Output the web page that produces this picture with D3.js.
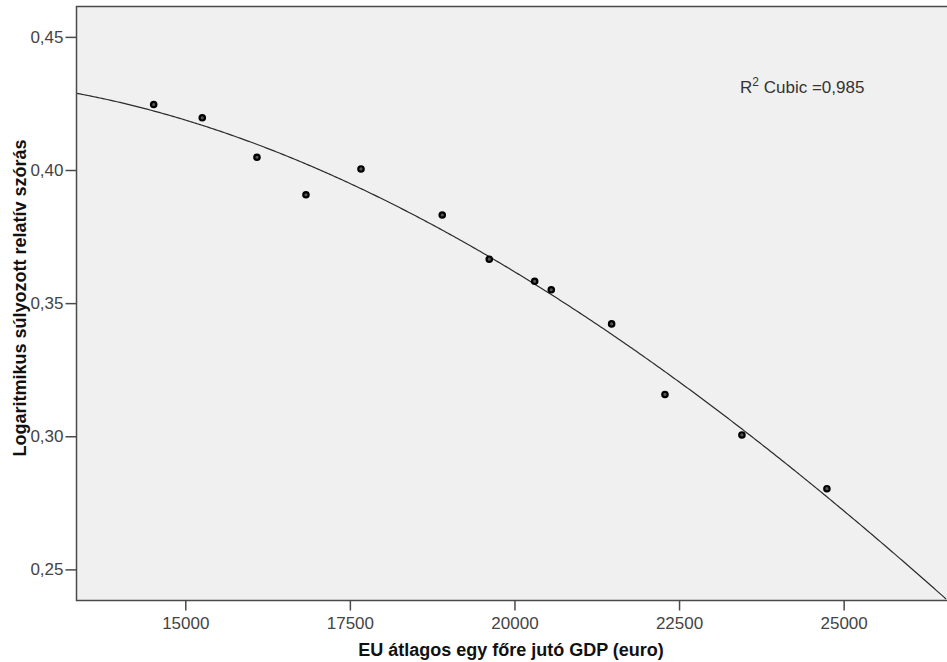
<!DOCTYPE html>
<html>
<head>
<meta charset="utf-8">
<script src="https://cdn.jsdelivr.net/npm/d3@7"></script>
<style>
  html, body { margin: 0; padding: 0; background: #ffffff; }
  svg { display: block; }
  text { font-family: Arial, "Liberation Sans", sans-serif; }
</style>
</head>
<body>
<script>
// ---- data ----
const gdp   = [14520, 15258, 16089, 16833, 17669, 18903, 19617, 20307, 20559, 21476, 22286, 23455, 24746];
const disp  = [0.4246, 0.4196, 0.4048, 0.3907, 0.4004, 0.3831, 0.3665, 0.3582, 0.3550, 0.3422, 0.3157, 0.3005, 0.2803];

const xTicks = [15000, 17500, 20000, 22500, 25000];
const yTicks = [0.25, 0.30, 0.35, 0.40, 0.45];
const xTitle = "EU átlagos egy főre jutó GDP (euro)";
const yTitle = "Logaritmikus súlyozott relatív szórás";
const r2Label = "0,985";

// ---- layout ----
const W = 947, H = 662;
const plot = { left: 76, top: 6, right: 947, bottom: 600 };

const x = d3.scaleLinear().domain([13340, 26570]).range([plot.left, plot.right]);
const y = d3.scaleLinear().domain([0.2385, 0.4616]).range([plot.bottom, plot.top]);

// ---- cubic least-squares fit of the points (the "R² Cubic" model line) ----
function cubicFit(xs, ys) {
  const c = 20000, s = 5000;
  const n = 4;
  const A = Array.from({length: n}, () => new Array(n + 1).fill(0));
  xs.forEach((xv, k) => {
    const t = (xv - c) / s;
    const p = [1, t, t * t, t * t * t];
    for (let i = 0; i < n; i++) {
      for (let j = 0; j < n; j++) A[i][j] += p[i] * p[j];
      A[i][n] += p[i] * ys[k];
    }
  });
  for (let i = 0; i < n; i++) {
    let m = i;
    for (let r = i + 1; r < n; r++) if (Math.abs(A[r][i]) > Math.abs(A[m][i])) m = r;
    [A[i], A[m]] = [A[m], A[i]];
    for (let r = 0; r < n; r++) {
      if (r === i) continue;
      const f = A[r][i] / A[i][i];
      for (let k = i; k <= n; k++) A[r][k] -= f * A[i][k];
    }
  }
  const b = A.map((row, i) => row[n] / row[i]);
  return (xv) => { const t = (xv - c) / s; return b[0] + b[1] * t + b[2] * t * t + b[3] * t * t * t; };
}
const model = cubicFit(gdp, disp);

const svg = d3.select("body").append("svg").attr("width", W).attr("height", H);

// plot background
svg.append("rect")
  .attr("x", plot.left).attr("y", plot.top)
  .attr("width", plot.right - plot.left).attr("height", plot.bottom - plot.top)
  .attr("fill", "#f0f0f0");

svg.append("clipPath").attr("id", "clip")
  .append("rect")
  .attr("x", plot.left).attr("y", plot.top)
  .attr("width", plot.right - plot.left).attr("height", plot.bottom - plot.top);

// fit line
const xs = d3.range(plot.left, plot.right + 1, 2).map(px => x.invert(px));
const line = d3.line().x(d => x(d)).y(d => y(model(d)));
svg.append("path")
  .datum(xs)
  .attr("clip-path", "url(#clip)")
  .attr("d", line)
  .attr("fill", "none")
  .attr("stroke", "#2b2b2b")
  .attr("stroke-width", 1.2);

// points
svg.append("g").selectAll("circle")
  .data(gdp)
  .join("circle")
  .attr("cx", (d) => x(d))
  .attr("cy", (d, i) => y(disp[i]))
  .attr("r", 2.7)
  .attr("fill", "#555")
  .attr("stroke", "#000")
  .attr("stroke-width", 2.2);

// frame: top, left, bottom
svg.append("path")
  .attr("d", `M${plot.right},${plot.top + 0.5}H${plot.left + 0.5}V${plot.bottom + 0.5}H${plot.right}`)
  .attr("fill", "none")
  .attr("stroke", "#4a4a4a")
  .attr("stroke-width", 1.5);

// axes
const fmtY = (d) => d3.format(".2f")(d).replace(".", ",");
const xAxis = d3.axisBottom(x).tickValues(xTicks).tickFormat(d3.format("d")).tickSize(10).tickPadding(6);
const yAxis = d3.axisLeft(y).tickValues(yTicks).tickFormat(fmtY).tickSize(11).tickPadding(2);

const gx = svg.append("g").attr("transform", `translate(0,${plot.bottom + 0.5})`).call(xAxis);
const gy = svg.append("g").attr("transform", `translate(${plot.left + 0.5},0)`).call(yAxis);
[gx, gy].forEach(g => {
  g.select(".domain").remove();
  g.selectAll(".tick line").attr("stroke", "#4a4a4a").attr("stroke-width", 1.5);
  g.selectAll(".tick text").attr("fill", "#444").attr("font-size", "17px")
    .attr("font-family", "Arial, 'Liberation Sans', sans-serif");
});

// axis titles
svg.append("text")
  .attr("x", 511).attr("y", 656)
  .attr("text-anchor", "middle")
  .attr("font-size", "18px").attr("font-weight", "bold").attr("fill", "#111")
  .text(xTitle);

svg.append("text")
  .attr("transform", "translate(26,298) rotate(-90)")
  .attr("text-anchor", "middle")
  .attr("font-size", "18px").attr("font-weight", "bold").attr("fill", "#111")
  .text(yTitle);

// R² annotation
const t = svg.append("text").attr("x", 740).attr("y", 93)
  .attr("font-size", "17px").attr("fill", "#333");
t.append("tspan").text("R");
t.append("tspan").attr("dy", -7).attr("font-size", "12px").text("2");
t.append("tspan").attr("dy", 7).text(" Cubic =" + r2Label);
</script>
</body>
</html>
